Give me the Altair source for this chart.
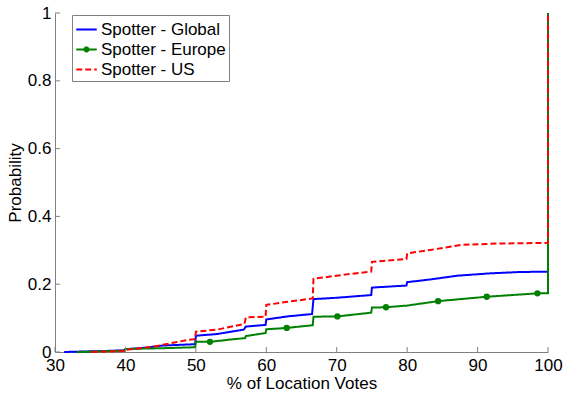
import altair as alt
import pandas as pd

# Empirical CDF of location-vote share for three Spotter groups.
series_names = ["Spotter - Global", "Spotter - Europe", "Spotter - US"]
series_colors = ["#0000ff", "#008000", "#ff0000"]

global_x = [31.3, 37.0, 39.9, 40.0, 43.0, 45.3, 49.9, 50.0, 53.0, 56.8, 57.1, 59.9,
            60.0, 63.0, 66.5, 66.7, 70.0, 74.9, 75.0, 79.9, 80.0, 83.3, 87.1, 91.8,
            96.0, 99.9, 100.0, 100.0]
global_y = [0.000, 0.003, 0.005, 0.008, 0.013, 0.019, 0.023, 0.048, 0.053, 0.066, 0.075, 0.080,
            0.096, 0.105, 0.112, 0.156, 0.160, 0.168, 0.190, 0.196, 0.206, 0.214, 0.225, 0.232,
            0.236, 0.237, 0.237, 1.000]

europe_x = [33.1, 39.9, 40.0, 45.0, 49.9, 50.0, 52.5, 55.0, 57.0, 57.1, 59.9, 60.0,
            62.9, 66.6, 66.7, 70.1, 74.9, 75.0, 77.0, 80.0, 84.4, 91.3, 98.5, 100.0, 100.0]
europe_y = [0.000, 0.004, 0.009, 0.011, 0.014, 0.030, 0.031, 0.037, 0.041, 0.047, 0.056, 0.067,
            0.071, 0.079, 0.104, 0.105, 0.116, 0.131, 0.132, 0.137, 0.150, 0.163, 0.173, 0.173, 1.000]

us_x = [35.2, 39.9, 40.0, 44.0, 48.7, 49.9, 50.0, 53.0, 56.9, 57.1, 59.9, 60.0,
        63.0, 66.6, 66.7, 71.4, 74.9, 75.0, 79.9, 80.0, 83.3, 87.6, 93.0, 99.9, 100.0, 100.0]
us_y = [0.000, 0.003, 0.006, 0.016, 0.035, 0.038, 0.060, 0.066, 0.083, 0.102, 0.104, 0.139,
        0.148, 0.158, 0.216, 0.229, 0.237, 0.266, 0.274, 0.291, 0.301, 0.316, 0.320, 0.322, 0.322, 1.000]

# Marker positions drawn along the Europe curve
europe_marker_x = [52.0, 62.9, 70.1, 77.0, 84.4, 91.3, 98.5]
europe_marker_y = [0.030, 0.071, 0.105, 0.132, 0.150, 0.163, 0.173]

x_ticks = [30, 40, 50, 60, 70, 80, 90, 100]
y_ticks = [0, 0.2, 0.4, 0.6, 0.8, 1]

rows = []
for name, xs, ys in [(series_names[0], global_x, global_y),
                     (series_names[1], europe_x, europe_y),
                     (series_names[2], us_x, us_y)]:
    for i, (xv, yv) in enumerate(zip(xs, ys)):
        rows.append({"series": name, "x": xv, "y": yv, "i": i})
curves = pd.DataFrame(rows)
markers = pd.DataFrame({"series": series_names[1], "x": europe_marker_x, "y": europe_marker_y})
xtick_df = pd.DataFrame({"x": x_ticks})
ytick_df = pd.DataFrame({"y": y_ticks})

W, H = 493, 339
FONT = "Liberation Sans"
FS = 17
AXIS_GRAY = "#808080"

x_scale = alt.Scale(domain=[30, 100], nice=False, zero=False)
y_scale = alt.Scale(domain=[0, 1], nice=False, zero=False)

x_axis = alt.Axis(title="% of Location Votes", values=x_ticks, format="d", grid=False,
                  ticks=False, tickSize=0, domainColor=AXIS_GRAY, labelFont=FONT,
                  labelFontSize=FS, labelColor="black", labelPadding=5, labelFlush=False,
                  labelOverlap=False, titleFont=FONT, titleFontSize=FS,
                  titleFontWeight="normal", titleColor="black", titlePadding=2)
y_axis = alt.Axis(title="Probability", values=y_ticks, format="~g", grid=False,
                  ticks=False, tickSize=0, domainColor=AXIS_GRAY, labelFont=FONT,
                  labelFontSize=FS, labelColor="black", labelPadding=4, labelFlush=False,
                  labelOverlap=False, titleFont=FONT, titleFontSize=FS,
                  titleFontWeight="normal", titleColor="black", titlePadding=3)

X = alt.X("x:Q", scale=x_scale, axis=x_axis)
Y = alt.Y("y:Q", scale=y_scale, axis=y_axis)

legend = alt.Legend(
    title=None, orient="none", legendX=17, legendY=2,
    symbolSize=420, symbolStrokeWidth=2,
    labelFont=FONT, labelFontSize=FS, labelColor="black", labelOffset=3,
    rowPadding=0, padding=3, strokeColor=AXIS_GRAY, fillColor="white",
)

# legend glyphs: plain stroke, stroke with a dot, plain stroke
europe_glyph = ("M-1,0L1,0M-0.2,0A0.2,0.2,0,1,0,0.2,0A0.2,0.2,0,1,0,-0.2,0Z"
                "M-0.08,0A0.08,0.08,0,1,0,0.08,0A0.08,0.08,0,1,0,-0.08,0Z")
color = alt.Color("series:N", scale=alt.Scale(domain=series_names, range=series_colors),
                  legend=legend)
dash = alt.StrokeDash("series:N", scale=alt.Scale(domain=series_names,
                                                  range=[[1, 0], [1, 0], [6, 3]]),
                      legend=legend)
shape = alt.Shape("series:N", scale=alt.Scale(domain=series_names,
                                              range=["stroke", europe_glyph, "stroke"]),
                  legend=legend)

# empty layer that only carries the combined legend
legend_layer = alt.Chart(curves).transform_filter("datum.x < 0").mark_point(
    filled=False, opacity=1, strokeWidth=2, size=420
).encode(x=X, y=Y, color=color, shape=shape, strokeDash=dash)

base = alt.Chart(curves)


def curve(name):
    return base.transform_filter(alt.datum.series == name).mark_line(
        strokeWidth=2, interpolate="linear"
    ).encode(x=X, y=Y, color=color, strokeDash=dash, order="i:Q")


layers = [
    legend_layer,
    curve(series_names[0]),
    curve(series_names[1]),
    alt.Chart(markers).mark_circle(size=40, opacity=1).encode(x=X, y=Y, color=color),
    curve(series_names[2]),
    # inward tick marks on both axes
    alt.Chart(xtick_df).mark_rule(color=AXIS_GRAY, strokeWidth=1).encode(
        x=X, y=alt.value(H), y2=alt.value(H - 5)),
    alt.Chart(ytick_df).mark_rule(color=AXIS_GRAY, strokeWidth=1).encode(
        y=Y, x=alt.value(0), x2=alt.value(5)),
]

chart = alt.layer(*layers).properties(
    width=W, height=H,
    padding={"left": 55, "top": 13, "right": 17, "bottom": 44},
    autosize=alt.AutoSizeParams(type="none"),
    background="white",
).configure_view(stroke=None)

chart.save("out.html", embed_options={"renderer": "svg", "actions": False})
